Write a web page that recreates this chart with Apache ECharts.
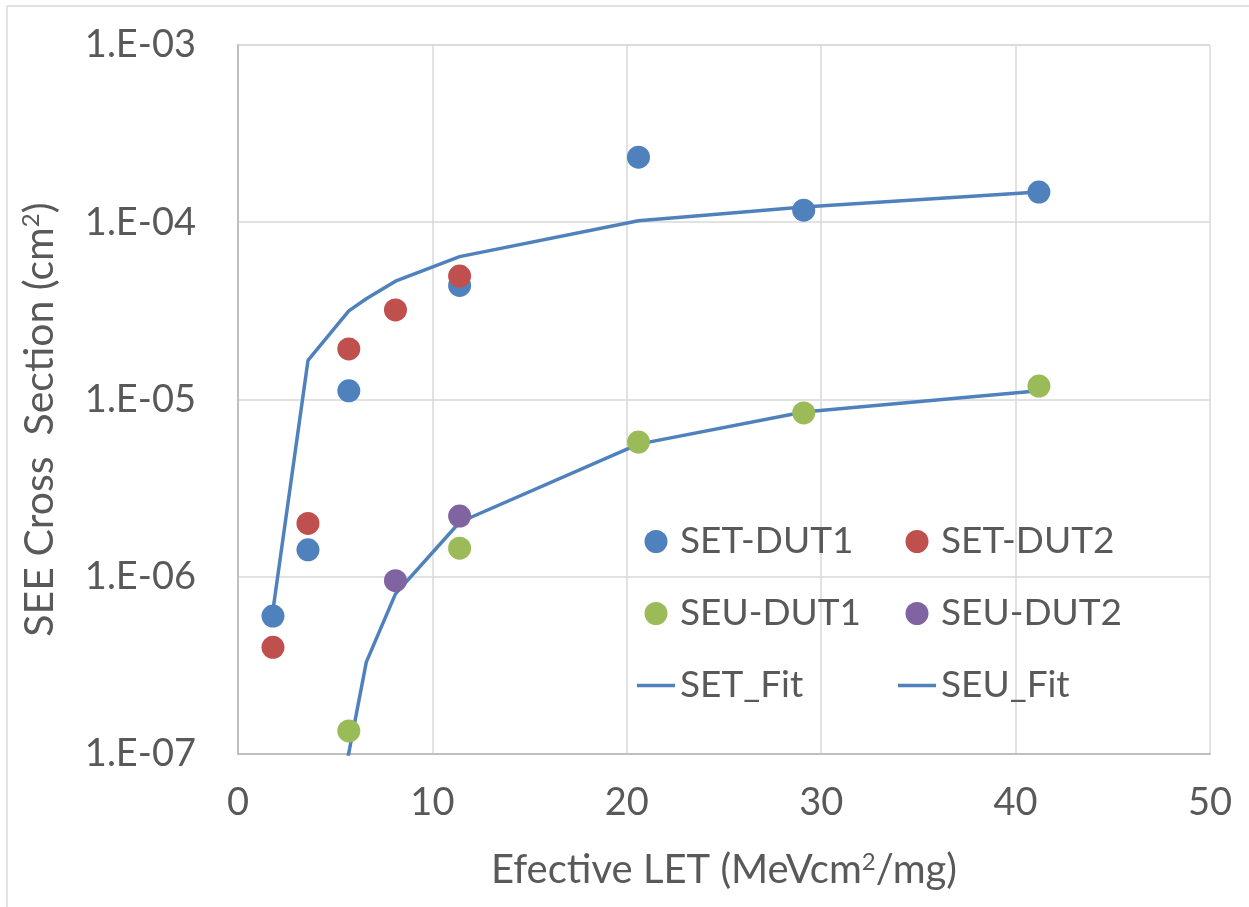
<!DOCTYPE html>
<html>
<head>
<meta charset="utf-8">
<script src="https://cdn.jsdelivr.net/npm/echarts@6/dist/echarts.min.js"></script>
<style>
  html, body { margin: 0; padding: 0; background: #fff; }
  #chart1 { width: 1249px; height: 907px; }
</style>
</head>
<body>
<div id="chart1"></div>
<script>
    // measured points (LET, cross section)
    var setDut1X = [1.8, 3.6, 5.7, 11.4, 20.6, 29.1, 41.2];
    var setDut1Y = [6.0e-7, 1.42e-6, 1.12e-5, 4.4e-5, 2.33e-4, 1.17e-4, 1.48e-4];

    var setDut2X = [1.8, 3.6, 5.7, 8.1, 11.4];
    var setDut2Y = [4.0e-7, 2.0e-6, 1.93e-5, 3.2e-5, 4.97e-5];

    var seuDut1X = [5.7, 11.4, 20.6, 29.1, 41.2];
    var seuDut1Y = [1.35e-7, 1.45e-6, 5.75e-6, 8.4e-6, 1.19e-5];

    var seuDut2X = [8.1, 11.4];
    var seuDut2Y = [9.5e-7, 2.2e-6];

    // fit curves
    var fitX = [1.8, 3.6, 5.7, 6.6, 8.1, 11.4, 20.6, 29.1, 41.2];
    var setFitY = [6.5e-7, 1.66e-5, 3.16e-5, 3.7e-5, 4.65e-5, 6.4e-5, 1.02e-4, 1.22e-4, 1.48e-4];
    var seuFitX = [5.65, 6.6, 8.1, 11.4, 20.6, 29.1, 41.2];
    var seuFitY = [9.5e-8, 3.3e-7, 8.0e-7, 2.03e-6, 5.6e-6, 8.5e-6, 1.12e-5];

    var yTickLabels = ['1.E-07', '1.E-06', '1.E-05', '1.E-04', '1.E-03'];

    function pairs(xs, ys) {
        var out = [];
        for (var i = 0; i < xs.length; i++) out.push([xs[i], ys[i]]);
        return out;
    }

    var font = 'Lato, "Open Sans", sans-serif';
    var textColor = '#595959';
    var lineIcon = 'path://M0,0h38v3.5h-38z';

    var chartDom = document.getElementById('chart1');
    var myChart = echarts.init(chartDom);
    var option;

    function dots(name, xs, ys, color) {
        return {
            name: name,
            type: 'scatter',
            data: pairs(xs, ys),
            symbol: 'circle',
            symbolSize: 23,
            itemStyle: { color: color, opacity: 1 },
            z: 3
        };
    }

    function fit(name, xs, ys) {
        return {
            name: name,
            type: 'line',
            data: pairs(xs, ys),
            symbol: 'none',
            showSymbol: false,
            clip: true,
            lineStyle: { color: '#4F81BD', width: 3.5 },
            itemStyle: { color: '#4F81BD' },
            z: 2
        };
    }

    var legendCommon = {
        orient: 'vertical',
        itemWidth: 38,
        itemHeight: 23,
        itemGap: 35,
        padding: 0,
        textStyle: { fontFamily: font, fontSize: 37, color: textColor },
        selectedMode: false
    };

    var supStyle = { fontSize: 24, color: textColor, fontFamily: font, verticalAlign: 'top', padding: [0, 0, 16, 0] };

    option = {
        animation: false,
        backgroundColor: '#fff',
        textStyle: { fontFamily: font },
        graphic: [
            { type: 'line', shape: { x1: 7, y1: 6, x2: 1249, y2: 6 }, style: { stroke: '#D9D9D9', lineWidth: 1.5 } },
            { type: 'line', shape: { x1: 7, y1: 6, x2: 7, y2: 907 }, style: { stroke: '#D9D9D9', lineWidth: 1.5 } }
        ],
        grid: { left: 238, right: 39, top: 45, bottom: 153 },
        legend: [
            Object.assign({ left: 637, top: 523, data: [
                { name: 'SET-DUT1', icon: 'circle' },
                { name: 'SEU-DUT1', icon: 'circle' },
                { name: 'SET_Fit', icon: lineIcon }
            ] }, legendCommon),
            Object.assign({ left: 898, top: 523, data: [
                { name: 'SET-DUT2', icon: 'circle' },
                { name: 'SEU-DUT2', icon: 'circle' },
                { name: 'SEU_Fit', icon: lineIcon }
            ] }, legendCommon)
        ],
        xAxis: {
            type: 'value',
            min: 0,
            max: 50,
            interval: 10,
            name: 'Efective LET (MeVcm{sup|2}/mg)',
            nameLocation: 'middle',
            nameGap: 96,
            nameTextStyle: {
                fontFamily: font, fontSize: 40, color: textColor,
                rich: { sup: supStyle }
            },
            axisLine: { show: true, lineStyle: { color: '#BFBFBF', width: 2 } },
            axisTick: { show: false },
            axisLabel: { fontFamily: font, fontSize: 38, color: textColor, margin: 30 },
            splitLine: { show: true, lineStyle: { color: '#D9D9D9', width: 1.5 } }
        },
        yAxis: {
            type: 'log',
            logBase: 10,
            min: 1e-7,
            max: 1e-3,
            name: 'SEE Cross  Section (cm{sup|2})',
            nameLocation: 'middle',
            nameGap: 178,
            nameTextStyle: {
                fontFamily: font, fontSize: 41, color: textColor,
                padding: [0, 40, 0, 0],
                rich: { sup: supStyle }
            },
            axisLine: { show: true, lineStyle: { color: '#BFBFBF', width: 2 } },
            axisTick: { show: false },
            axisLabel: {
                fontFamily: font, fontSize: 38, color: textColor, margin: 42,
                formatter: function (v) {
                    var e = Math.round(Math.log10(v));
                    return yTickLabels[e + 7];
                }
            },
            splitLine: { show: true, lineStyle: { color: '#D9D9D9', width: 1.5 } }
        },
        series: [
            fit('SET_Fit', fitX, setFitY),
            fit('SEU_Fit', seuFitX, seuFitY),
            dots('SET-DUT1', setDut1X, setDut1Y, '#4F81BD'),
            dots('SET-DUT2', setDut2X, setDut2Y, '#C0504D'),
            dots('SEU-DUT1', seuDut1X, seuDut1Y, '#9BBB59'),
            dots('SEU-DUT2', seuDut2X, seuDut2Y, '#8064A2')
        ]
    };
    option && myChart.setOption(option);
</script>
</body>
</html>
